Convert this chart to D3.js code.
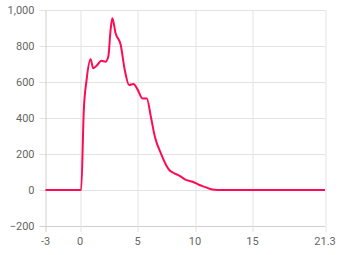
<!DOCTYPE html>
<html>
<head>
<meta charset="utf-8">
<script src="https://cdn.jsdelivr.net/npm/d3@7"></script>
<style>
  body { margin: 0; background: #fff; }
  svg text { font-family: Roboto, "Noto Sans", sans-serif; font-size: 11px; fill: #666; }
</style>
</head>
<body>
<svg width="340" height="255"></svg>
<script>
// values
const times = [-3, 0, 0.1, 0.33, 0.57, 0.92, 1.15, 1.5, 1.85, 2.23, 2.46, 2.66, 2.81, 3.1, 3.54, 3.89, 4.27, 4.65, 5.0, 5.43, 5.81, 6.16, 6.51, 7.03, 7.76, 8.2, 8.63, 9.22, 9.8, 10.38, 10.9, 11.4, 12.0, 15, 21.3]
const values = [0, 0, 0, 444, 611, 726, 676, 694, 718, 713, 741, 889, 954, 870, 806, 667, 583, 589, 559, 509, 509, 407, 296, 204, 111, 93, 80, 56, 46, 28, 16, 4, 0, 0, 0]
const xTicks = [-3, 0, 5, 10, 15, 21.3]
const yTicks = [-200, 0, 200, 400, 600, 800, 1000]

const data = times.map((t, i) => ({ t: t, v: values[i] }))

const svg = d3.select("svg")
const margins = { top: 10, right: 15, bottom: 29, left: 45.5 }
const width = +svg.attr("width") - margins.left - margins.right
const height = +svg.attr("height") - margins.top - margins.bottom
const g = svg.append("g").attr("transform", `translate(${margins.left},${margins.top})`)

const x = d3.scaleLinear().domain([-3, 21.3]).range([0, width])
const y = d3.scaleLinear().domain([-200, 1000]).range([height, 0])

// grid
g.append("g")
  .selectAll("line")
  .data(yTicks)
  .join("line")
  .attr("x1", -6)
  .attr("x2", width)
  .attr("y1", (d) => Math.round(y(d)) + 0.5)
  .attr("y2", (d) => Math.round(y(d)) + 0.5)
  .attr("stroke", (d) => (d === -200 ? "#cfcfcf" : "#e3e3e3"))

g.append("g")
  .selectAll("line")
  .data(xTicks)
  .join("line")
  .attr("x1", (d) => Math.round(x(d)) + 0.5)
  .attr("x2", (d) => Math.round(x(d)) + 0.5)
  .attr("y1", 0)
  .attr("y2", height + 6)
  .attr("stroke", (d) => (d === -3 ? "#cfcfcf" : "#e3e3e3"))

// labels
g.append("g")
  .selectAll("text")
  .data(yTicks)
  .join("text")
  .attr("x", -11)
  .attr("y", (d) => y(d))
  .attr("dy", "0.35em")
  .attr("text-anchor", "end")
  .text((d) => d3.format(",")(d))

g.append("g")
  .selectAll("text")
  .data(xTicks)
  .join("text")
  .attr("x", (d) => x(d))
  .attr("y", height + 19)
  .attr("text-anchor", "middle")
  .text((d) => d)

const line = d3
  .line()
  .curve(d3.curveMonotoneX)
  .x((d) => x(d.t))
  .y((d) => y(d.v))

g.append("path")
  .datum(data)
  .attr("fill", "none")
  .attr("stroke", "#ff0a54")
  .attr("stroke-width", 2)
  .attr("stroke-linejoin", "round")
  .attr("d", line)
</script>
</body>
</html>
